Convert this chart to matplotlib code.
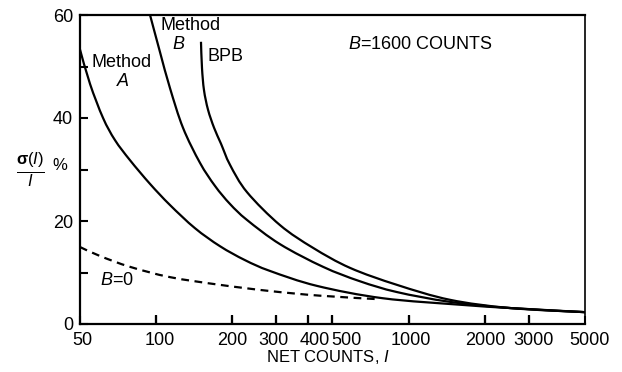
import matplotlib
matplotlib.use("Agg")
import numpy as np
import matplotlib.pyplot as plt
from matplotlib.ticker import FixedLocator, FixedFormatter, NullFormatter, NullLocator
from matplotlib.path import Path
from matplotlib.patches import PathPatch
from matplotlib.transforms import ScaledTranslation, blended_transform_factory

plt.rcParams['font.family'] = ['Liberation Sans', 'DejaVu Sans']
plt.rcParams['mathtext.fontset'] = 'custom'
plt.rcParams['mathtext.rm'] = 'Liberation Sans'
plt.rcParams['mathtext.it'] = 'Liberation Sans:italic'
plt.rcParams['mathtext.bf'] = 'Liberation Sans:bold'

# ---- data ----
method_a_counts = [50, 54.8, 61.7, 68.8, 78.9, 94.7, 113.6, 142.7, 179.3, 225.1, 282.8, 434, 792, 1643, 2524, 5000]
method_a_sigma = [53.3, 46.6, 40.0, 35.7, 31.8, 27.2, 23.1, 18.6, 15.1, 12.4, 10.3, 7.4, 5.0, 3.7, 3.1, 2.3]

method_b_counts = [94.7, 103.7, 113.6, 127.9, 149.3, 171.3, 196.4, 229.3, 309.8, 458.8, 642, 900, 1459, 2524, 5000]
method_b_sigma = [60.0, 52.8, 45.8, 38.1, 31.3, 26.8, 23.3, 20.2, 15.5, 11.1, 8.3, 6.2, 4.3, 3.1, 2.3]

bpb_counts = [150.7, 152.1, 154.9, 160.7, 169.8, 180.9, 196.4, 229.3, 309.8, 418.3, 586.5, 900, 1459, 2524, 5000]
bpb_sigma = [54.8, 49.7, 45.4, 41.6, 38.1, 35.0, 30.9, 25.6, 19.2, 14.8, 10.9, 7.6, 4.7, 3.1, 2.3]

b0_counts = [50, 60.0, 78.9, 113.6, 179.3, 282.8, 445.8, 771]
b0_sigma = [14.95, 13.2, 11.1, 9.1, 7.6, 6.4, 5.5, 4.8]

x_tick_labels = [50, 100, 200, 300, 400, 500, 1000, 2000, 3000, 5000]
y_tick_labels = [0, 20, 40, 60]
y_minor_ticks = [10, 30, 50]


def smooth_curve(xs, ys):
    """Catmull-Rom Bezier path through the read points, in (log x, y) space."""
    u = np.log10(np.asarray(xs, float))
    y = np.asarray(ys, float)
    P = np.column_stack([u, y])
    n = len(P)
    verts = [P[0]]
    codes = [Path.MOVETO]
    for i in range(n - 1):
        p0 = P[i - 1] if i > 0 else P[i]
        p1 = P[i]
        p2 = P[i + 1]
        p3 = P[i + 2] if i + 2 < n else P[i + 1]
        c1 = p1 + (p2 - p0) / 6.0
        c2 = p2 - (p3 - p1) / 6.0
        verts += [c1, c2, p2]
        codes += [Path.CURVE4] * 3
    verts = np.array(verts)
    verts[:, 0] = 10 ** verts[:, 0]
    return Path(verts, codes)


# ---- figure ----
fig = plt.figure(figsize=(6.22, 3.72), dpi=100)
ax = fig.add_axes([80/622, 48/372, 505/622, 309/372])
ax.set_xscale('log')
ax.set_xlim(50, 5000)
ax.set_ylim(0, 60)

lw = 1.6
for xs, ys, ls in [(method_a_counts, method_a_sigma, '-'),
                   (method_b_counts, method_b_sigma, '-'),
                   (bpb_counts, bpb_sigma, '-'),
                   (b0_counts, b0_sigma, (0, (3.5, 2.5)))]:
    ax.add_patch(PathPatch(smooth_curve(xs, ys), fill=False, edgecolor='black',
                           lw=lw, linestyle=ls, capstyle='butt', zorder=2))

ax.xaxis.set_major_locator(FixedLocator(x_tick_labels))
ax.xaxis.set_major_formatter(FixedFormatter([str(v) for v in x_tick_labels]))
ax.xaxis.set_minor_locator(NullLocator())
ax.xaxis.set_minor_formatter(NullFormatter())
ax.yaxis.set_major_locator(FixedLocator(y_tick_labels))
ax.yaxis.set_minor_locator(FixedLocator(y_minor_ticks))
ax.yaxis.set_minor_formatter(NullFormatter())

ax.xaxis.set_tick_params(which='major', bottom=True, top=False, direction='in',
                         length=6, width=1.5, color='black', labelsize=13, pad=5.5)
ax.yaxis.set_tick_params(which='both', left=True, right=False, direction='in',
                         length=6, width=1.5, color='black', labelsize=13, pad=5)

# inward tick marks along the bottom axis at the labelled counts (x in data, y in axes fraction)
tick_trans = blended_transform_factory(ax.transData, ax.transAxes)
ax.vlines(x_tick_labels[1:-1], 0, 0.028, colors='black', linewidth=1.6,
          transform=tick_trans, clip_on=False, zorder=5)

for s in ax.spines.values():
    s.set_linewidth(1.6)
ax.spines['right'].set_linewidth(1.2)

# ---- annotations ----
fs = 13
ax.text(73, 50.8, 'Method', fontsize=fs, ha='center', va='center')
ax.text(74, 47.0, 'A', fontsize=fs, ha='center', va='center', style='italic')
ax.text(137, 58.0, 'Method', fontsize=fs, ha='center', va='center')
ax.text(123, 54.3, 'B', fontsize=fs, ha='center', va='center', style='italic')
ax.text(189, 52.0, 'BPB', fontsize=fs, ha='center', va='center')
ax.text(1110, 54.2, r'$B$=1600 COUNTS', fontsize=fs, ha='center', va='center')
ax.text(70, 8.4, r'$B$=0', fontsize=fs, ha='center', va='center')

fig.text(328/622, 1 - 357/372, r'NET COUNTS, $I$', fontsize=12, ha='center', va='center')
fig.text(30/622, 1 - 170/372, r'$\frac{\mathbf{\sigma}(I)}{I}$', fontsize=17, ha='center', va='center')
fig.text(60/622, 1 - 165/372, '%', fontsize=12, ha='center', va='center')

# horizontal nudges (pixels) of x tick labels, as set in the reference
label_shift = {50: 2, 100: 4, 200: 0, 300: -3, 400: 7, 500: 14,
               1000: 2, 2000: 1, 3000: 5, 5000: 4}
fig.canvas.draw()
for t in ax.xaxis.get_major_ticks():
    lab = t.label1
    dx = label_shift.get(int(round(t.get_loc())), 0)
    lab.set_transform(lab.get_transform() + ScaledTranslation(dx / 100, 0, fig.dpi_scale_trans))

fig.savefig('out.png', dpi=100, facecolor='white')
